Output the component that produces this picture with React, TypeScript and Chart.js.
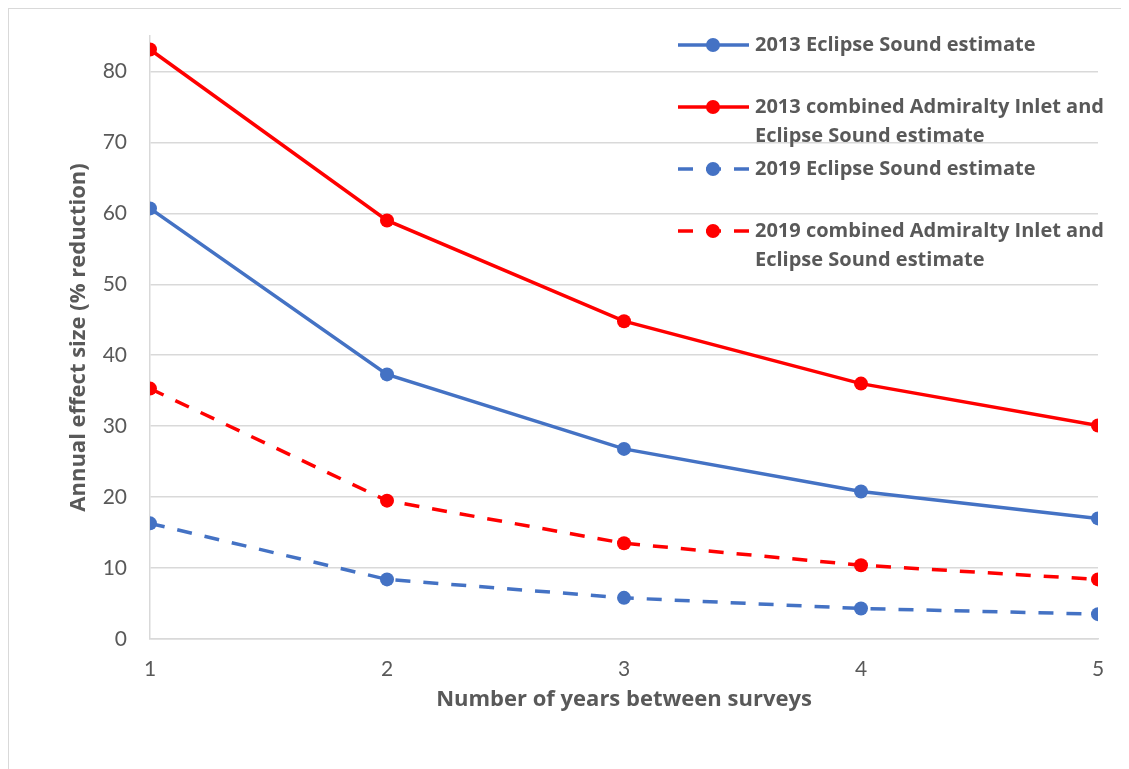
import { useEffect, useRef } from "react";
import { Chart, registerables } from "chart.js";

Chart.register(...registerables);

const YEARS = [1, 2, 3, 4, 5];
const ES_2013 = [60.7, 37.3, 26.8, 20.8, 17.0];
const COMBINED_2013 = [83.1, 59.0, 44.8, 36.0, 30.1];
const ES_2019 = [16.3, 8.4, 5.8, 4.3, 3.5];
const COMBINED_2019 = [35.3, 19.5, 13.5, 10.4, 8.4];

const SERIES_LABELS = [
  "2013 Eclipse Sound estimate",
  "2013 combined Admiralty Inlet and Eclipse Sound estimate",
  "2019 Eclipse Sound estimate",
  "2019 combined Admiralty Inlet and Eclipse Sound estimate",
];
const LEGEND_LINES = [
  ["2013 Eclipse Sound estimate"],
  ["2013 combined Admiralty Inlet and", "Eclipse Sound estimate"],
  ["2019 Eclipse Sound estimate"],
  ["2019 combined Admiralty Inlet and", "Eclipse Sound estimate"],
];
const Y_TICKS = [0, 10, 20, 30, 40, 50, 60, 70, 80];
const X_TITLE = "Number of years between surveys";
const Y_TITLE = "Annual effect size (% reduction)";

const BLUE = "#4472C4";
const RED = "#FF0000";
const TEXT = "#595959";
const GRID = "#D9D9D9";
const FONT = "Lato, 'Open Sans', sans-serif";
const BOLD_FONT = "'Open Sans', Lato, sans-serif";
const DASH = [15, 13];

const toPoints = (vals: number[]) => YEARS.map((x, i) => ({ x, y: vals[i] }));

const legendPlugin = {
  id: "insideLegend",
  afterDraw(chart: any) {
    const ctx = chart.ctx as CanvasRenderingContext2D;
    const startX = 669;
    const firstY = 36;
    const step = 62;
    const lineH = 29;
    ctx.save();
    chart.data.datasets.forEach((ds: any, i: number) => {
      const y = firstY + i * step;
      const color = ds.borderColor;
      ctx.strokeStyle = color;
      ctx.lineWidth = ds.borderWidth;
      ctx.setLineDash(ds.borderDash || []);
      ctx.lineCap = "butt";
      ctx.beginPath();
      ctx.moveTo(startX, y);
      ctx.lineTo(startX + 71, y);
      ctx.stroke();
      ctx.setLineDash([]);
      ctx.fillStyle = color;
      ctx.beginPath();
      ctx.arc(startX + 35, y, ds.pointRadius, 0, Math.PI * 2);
      ctx.fill();
      ctx.fillStyle = TEXT;
      ctx.font = `bold 20px ${BOLD_FONT}`;
      ctx.textAlign = "left";
      ctx.textBaseline = "middle";
      LEGEND_LINES[i].forEach((t, j) => {
        ctx.fillText(t, startX + 77, y + j * lineH);
      });
    });
    ctx.restore();
  },
};

export default function App() {
  const ref = useRef<HTMLCanvasElement | null>(null);

  useEffect(() => {
    document.body.style.overflow = "hidden";
    const canvas = ref.current;
    if (!canvas) return;
    const mk = (label: string, vals: number[], color: string, dashed: boolean) => ({
      label,
      data: toPoints(vals),
      borderColor: color,
      backgroundColor: color,
      borderWidth: 3.5,
      borderDash: dashed ? DASH : [],
      pointRadius: 7,
      pointHoverRadius: 7,
      pointBorderWidth: 0,
      pointBackgroundColor: color,
      tension: 0,
      fill: false,
    });
    const chart = new Chart(canvas, {
      type: "line",
      data: {
        datasets: [
          mk(SERIES_LABELS[0], ES_2013, BLUE, false),
          mk(SERIES_LABELS[1], COMBINED_2013, RED, false),
          mk(SERIES_LABELS[2], ES_2019, BLUE, true),
          mk(SERIES_LABELS[3], COMBINED_2019, RED, true),
        ],
      },
      options: {
        animation: false,
        responsive: false,
        layout: { padding: { top: 27, right: 31, left: 0, bottom: 0 } },
        plugins: {
          legend: { display: false },
          tooltip: { enabled: false },
          title: { display: false },
        },
        elements: { line: { borderCapStyle: "butt" } },
        scales: {
          x: {
            type: "linear",
            min: 1,
            max: 5,
            afterFit: (s: any) => {
              s.height = 130;
              s.paddingLeft = 0;
              s.paddingRight = 0;
            },
            afterBuildTicks: (s: any) => {
              s.ticks = YEARS.map((v) => ({ value: v }));
            },
            grid: { display: false, drawTicks: false },
            border: { display: true, color: GRID, width: 1.5 },
            ticks: {
              color: TEXT,
              font: { family: FONT, size: 21 },
              padding: 18,
              maxRotation: 0,
            },
            title: {
              display: true,
              text: X_TITLE,
              color: TEXT,
              font: { family: BOLD_FONT, size: 22, weight: "bold", lineHeight: 1.2 },
              padding: { top: 0, bottom: 56 },
            },
          },
          y: {
            type: "linear",
            min: 0,
            max: 85,
            afterFit: (s: any) => {
              s.width = 141;
              s.paddingTop = 0;
              s.paddingBottom = 0;
            },
            afterBuildTicks: (s: any) => {
              s.ticks = Y_TICKS.map((v) => ({ value: v }));
            },
            grid: { color: GRID, lineWidth: 1.5, drawTicks: false },
            border: { display: true, color: GRID, width: 1.5 },
            ticks: {
              color: TEXT,
              font: { family: FONT, size: 21 },
              padding: 23,
            },
            title: {
              display: true,
              text: Y_TITLE,
              color: TEXT,
              font: { family: BOLD_FONT, size: 22, weight: "bold", lineHeight: 1.2 },
              padding: { top: 57, bottom: 0 },
            },
          },
        },
      },
      plugins: [legendPlugin],
    } as any);
    return () => chart.destroy();
  }, []);

  return (
    <div
      style={{
        width: 1121,
        height: 761,
        boxSizing: "border-box",
        borderTop: `1px solid ${GRID}`,
        borderLeft: `1px solid ${GRID}`,
        background: "#fff",
      }}
    >
      <canvas ref={ref} width={1120} height={760} style={{ display: "block", width: 1120, height: 760 }} />
    </div>
  );
}
